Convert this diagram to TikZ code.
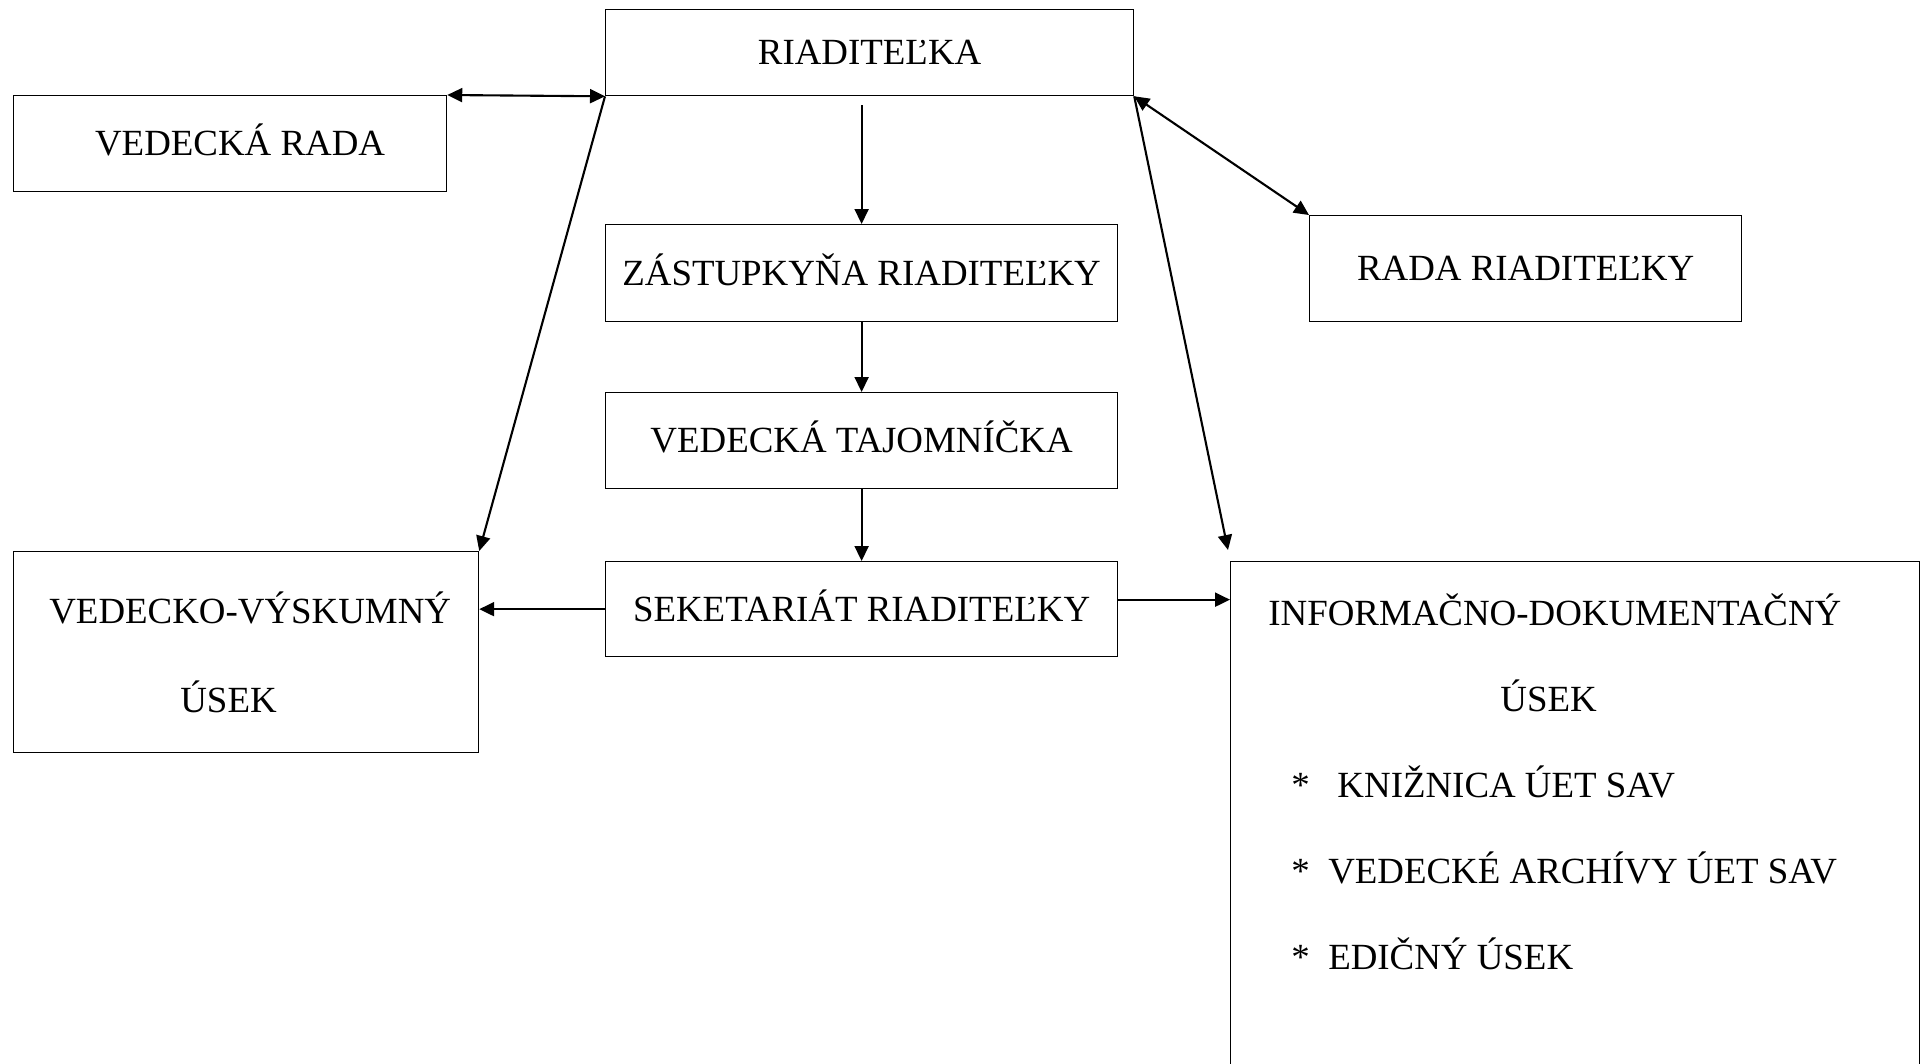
\documentclass[tikz,border=0pt]{standalone}
\usepackage{fontspec}
\setmainfont{Liberation Serif}
\usetikzlibrary{arrows.meta}
\tikzset{
    unitbox/.style={draw, line width=0.75pt, inner sep=0pt, anchor=north west,
        font=\fontsize{21}{25}\selectfont, text height=14pt, text depth=0pt},
    boxline/.style={inner sep=0pt, anchor=base west,
        font=\fontsize{21}{25}\selectfont},
    link/.style={line width=1.2pt, -{Triangle[length=0.3cm,width=0.28cm]}},
    twolink/.style={link, {Triangle[length=0.3cm,width=0.28cm]}-{Triangle[length=0.3cm,width=0.28cm]}}
}
\begin{document}
\begin{tikzpicture}[x=0.02cm, y=-0.02cm]
    \useasboundingbox (0,0) rectangle (1923,1063);
    \clip (0,0) rectangle (1923,1063);
    % the director and the boxes below her
    \node[unitbox, minimum width=10.56cm, minimum height=1.72cm] (riad) at (605,9) {RIADITEĽKA};
    \node[unitbox, minimum width=10.24cm, minimum height=1.94cm] (zast) at (605,224) {ZÁSTUPKYŇA RIADITEĽKY};
    \node[unitbox, minimum width=10.24cm, minimum height=1.92cm] (taj)  at (605,392) {VEDECKÁ TAJOMNÍČKA};
    \node[unitbox, minimum width=10.24cm, minimum height=1.90cm] (sek)  at (605,561) {SEKETARIÁT RIADITEĽKY};
    % the two councils
    \node[unitbox, minimum width=8.66cm, minimum height=1.92cm] (vrada) at (13,95) {\hspace*{0.4cm}VEDECKÁ RADA};
    \node[unitbox, minimum width=8.64cm, minimum height=2.12cm] (rrada) at (1309,215) {RADA RIADITEĽKY};
    % the research section
    \node[unitbox, minimum width=9.30cm, minimum height=4.02cm] (vvu) at (13,551) {};
    \node[boxline] (vvutop) at (49,623) {VEDECKO-VÝSKUMNÝ};
    \node[boxline] (vvubot) at (180,712) {ÚSEK};
    % the information and documentation section, running off the page
    \node[unitbox, minimum width=13.78cm, minimum height=11cm] (info) at (1230,561) {};
    \node[boxline] (info1) at (1268,625) {INFORMAČNO-DOKUMENTAČNÝ};
    \node[boxline] (info2) at (1500,711) {ÚSEK};
    \node[boxline] (info3) at (1291,797) {*\hspace{0.75em}KNIŽNICA ÚET SAV};
    \node[boxline] (info4) at (1291,883) {*\hspace{0.5em}VEDECKÉ ARCHÍVY ÚET SAV};
    \node[boxline] (info5) at (1291,969) {*\hspace{0.5em}EDIČNÝ ÚSEK};
    \coordinate (infotip) at (1228,550);
    % connectors
    \draw[twolink] (vrada.north east) -- (riad.south west);
    \draw[twolink] (riad.south east) -- (rrada.north west);
    \draw[link, shorten <=0.18cm] (riad.south -| zast.north) -- (zast.north);
    \draw[link] (zast.south) -- (taj.north);
    \draw[link] (taj.south) -- (sek.north);
    \draw[link] (riad.south west) -- (vvu.north east);
    \draw[link] (riad.south east) -- (infotip);
    \draw[link] (sek.west) -- (sek.west -| vvu.east);
    \draw[link] ([yshift=0.19cm]sek.east) -- ([yshift=0.19cm]sek.east -| info.west);
\end{tikzpicture}
\end{document}
